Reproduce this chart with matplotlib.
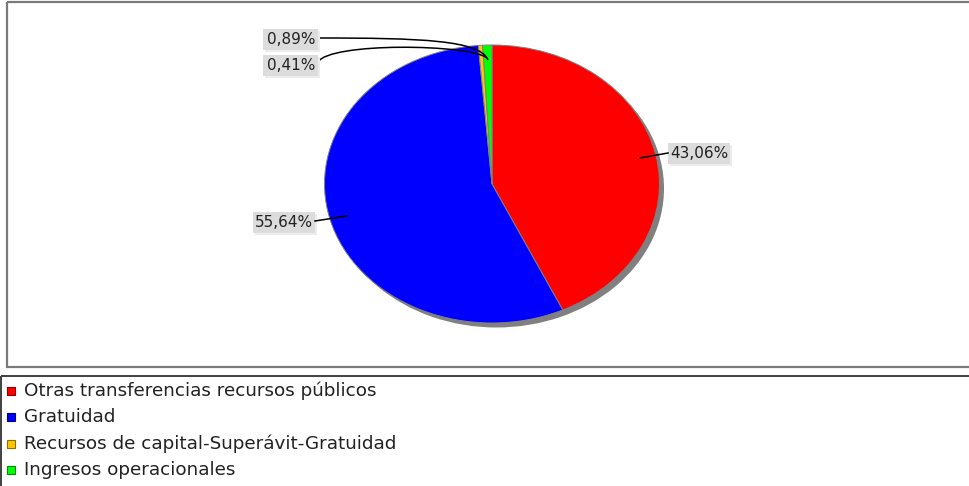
import matplotlib
matplotlib.use("Agg")
import matplotlib.pyplot as plt
from matplotlib.patches import Rectangle
from matplotlib.path import Path
from matplotlib.patches import PathPatch

# data
categories = ["Otras transferencias recursos públicos", "Gratuidad",
              "Recursos de capital-Superávit-Gratuidad", "Ingresos operacionales"]
values = [43.06, 55.64, 0.41, 0.89]
colors = ["#ff0000", "#0000ff", "#ffc800", "#00ff00"]
edge_colors = ["#8b0000", "#00008b", "#8b6d00", "#008b00"]
label_texts = ["43,06%", "55,64%", "0,41%", "0,89%"]

W, H = 970, 486
plt.rcParams['font.family'] = ['DejaVu Sans']
fig = plt.figure(figsize=(W / 100, H / 100), dpi=100)

# pie area in pixels (ellipse)
cx, cy, rx, ry = 492, 184, 167.5, 139
ax = fig.add_axes([(cx - rx) / W, 1 - (cy + ry) / H, 2 * rx / W, 2 * ry / H])
# shadow
ax.pie([1], colors=["#808080"], radius=1, center=(4.5 / rx, -4.5 / ry),
       wedgeprops=dict(linewidth=0))
ax.pie(values, colors=colors, startangle=90, counterclock=False, radius=1,
       wedgeprops=dict(edgecolor="#808080", linewidth=0.7))
ax.set_aspect("auto")
ax.set_xlim(-1, 1)
ax.set_ylim(-1, 1)
ax.axis("off")

# overlay in pixel coords
ov = fig.add_axes([0, 0, 1, 1], zorder=5)
ov.set_xlim(0, W)
ov.set_ylim(H, 0)
ov.axis("off")
ov.patch.set_alpha(0)

# plot frame and legend frame
ov.add_patch(Rectangle((7, 2), 1000, 365, fill=False, edgecolor="#7a7a7a", linewidth=1.6))
ov.add_patch(Rectangle((1, 376), 1000, 200, fill=False, edgecolor="#404040", linewidth=1.4))

# leader lines
def curve(p0, p1, p2, p3):
    path = Path([p0, p1, p2, p3], [Path.MOVETO, Path.CURVE4, Path.CURVE4, Path.CURVE4])
    ov.add_patch(PathPatch(path, fill=False, edgecolor="black", linewidth=1.1))

ov.plot([640, 668], [158, 153], color="black", linewidth=1.1)
ov.plot([315, 347], [221, 216], color="black", linewidth=1.1)
curve((318, 38), (420, 38), (480, 40), (488, 60))
curve((318, 62), (330, 42), (470, 44), (487, 58))

# label boxes
label_pos = {"43,06%": (699, 153), "55,64%": (284, 222), "0,89%": (291, 39), "0,41%": (291, 65)}
for t in label_texts:
    x, y = label_pos[t]
    w = 62 if len(t) == 6 else 55
    ov.add_patch(Rectangle((x - w / 2 + 2, y - 10 + 2), w, 21, facecolor="#ececec", edgecolor="none"))
    ov.add_patch(Rectangle((x - w / 2, y - 10), w, 21, facecolor="#dcdcdc", edgecolor="none"))
    ov.text(x, y + 0.5, t, fontsize=11, color="#222222", ha="center", va="center")

# legend
for i, (lab, c, ec) in enumerate(zip(categories, colors, edge_colors)):
    y = 391 + i * 26.3
    ov.add_patch(Rectangle((7, y - 4), 8, 8, facecolor=c, edgecolor=ec, linewidth=0.8))
    ov.text(24, y, lab, fontsize=13.2, color="#222222", ha="left", va="center")

fig.savefig("out.png", dpi=100)
